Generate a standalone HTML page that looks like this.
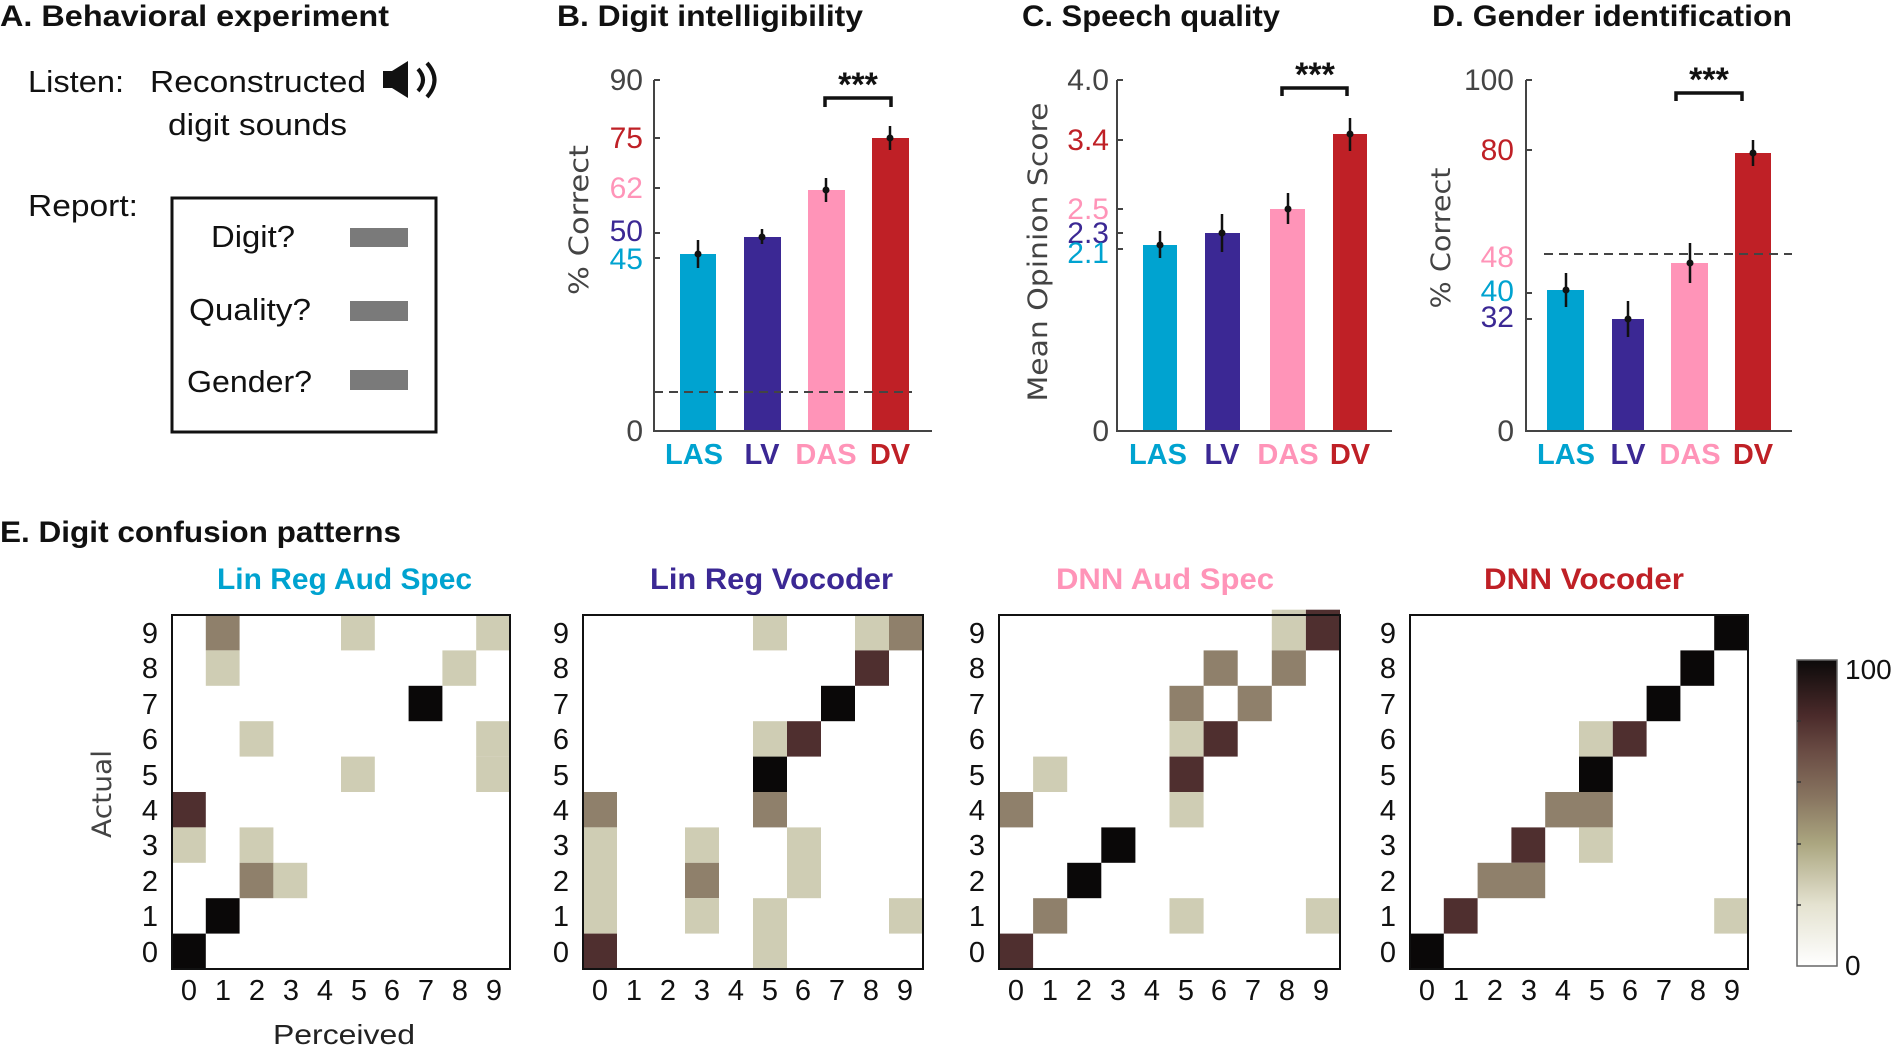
<!DOCTYPE html>
<html><head><meta charset="utf-8"><style>
html,body{margin:0;padding:0;background:#fff;}
svg{display:block;}
text{font-family:"Liberation Sans Narrow","Liberation Sans",sans-serif;}
.t{font-weight:bold;font-size:30px;fill:#111;}
.tk{font-size:30px;fill:#444;}
.cat{font-weight:bold;font-size:29px;}
.ax{stroke:#444;stroke-width:2;fill:none;}
.rot{font-family:"DejaVu Sans",sans-serif;font-size:27px;fill:#444;}
.mt{font-size:29px;fill:#111;}
</style></head><body>
<svg width="1899" height="1046" viewBox="0 0 1899 1046" xmlns="http://www.w3.org/2000/svg">
<defs>
<linearGradient id="cb" x1="0" y1="1" x2="0" y2="0">
<stop offset="0" stop-color="#ffffff"/>
<stop offset="0.2" stop-color="#e4e2d0"/>
<stop offset="0.4" stop-color="#aba680"/>
<stop offset="0.55" stop-color="#887560"/>
<stop offset="0.7" stop-color="#6a4c44"/>
<stop offset="0.82" stop-color="#4a2a2a"/>
<stop offset="1" stop-color="#0c0a0a"/>
</linearGradient>
</defs>

<!-- Titles -->
<text class="t" x="0" y="26" textLength="389" lengthAdjust="spacingAndGlyphs">A. Behavioral experiment</text>
<text class="t" x="557" y="26" textLength="306" lengthAdjust="spacingAndGlyphs">B. Digit intelligibility</text>
<text class="t" x="1022" y="26" textLength="258" lengthAdjust="spacingAndGlyphs">C. Speech quality</text>
<text class="t" x="1432" y="26" textLength="360" lengthAdjust="spacingAndGlyphs">D. Gender identification</text>

<!-- Panel A -->
<g font-size="31" fill="#111">
<text x="28" y="92" textLength="96" lengthAdjust="spacingAndGlyphs">Listen:</text>
<text x="150" y="92" textLength="216" lengthAdjust="spacingAndGlyphs">Reconstructed</text>
<text x="168" y="135" textLength="179" lengthAdjust="spacingAndGlyphs">digit sounds</text>
<text x="28" y="216" textLength="110" lengthAdjust="spacingAndGlyphs">Report:</text>
<text x="211" y="247" textLength="84" lengthAdjust="spacingAndGlyphs">Digit?</text>
<text x="189" y="320" textLength="122" lengthAdjust="spacingAndGlyphs">Quality?</text>
<text x="187" y="392" textLength="125" lengthAdjust="spacingAndGlyphs">Gender?</text>
</g>
<polygon points="383,71 392,71 408,61 408,98 392,88 383,88" fill="#111"/>
<path d="M418,69 Q428,80 418,91" stroke="#111" stroke-width="4" fill="none"/>
<path d="M427,63 Q442,80 427,97" stroke="#111" stroke-width="4" fill="none"/>
<rect x="172" y="198" width="264" height="234" fill="none" stroke="#111" stroke-width="3"/>
<rect x="350" y="228" width="58" height="19" fill="#7a7a7a"/>
<rect x="350" y="301" width="58" height="20" fill="#7a7a7a"/>
<rect x="350" y="370" width="58" height="20" fill="#7a7a7a"/>

<!-- Panel B -->
<rect x="680" y="254" width="36" height="177" fill="#00a3d0"/>
<rect x="744" y="237" width="37" height="194" fill="#3b2894"/>
<rect x="808" y="190" width="37" height="241" fill="#ff94b8"/>
<rect x="872" y="138" width="37" height="293" fill="#bf2026"/>
<line x1="654" y1="392" x2="912" y2="392" stroke="#444" stroke-width="2" stroke-dasharray="9,6"/>
<path class="ax" d="M654,80 L654,431 L932,431"/>
<g stroke="#444" stroke-width="2"><line x1="654" y1="80" x2="660" y2="80"/><line x1="654" y1="138" x2="660" y2="138"/><line x1="654" y1="188" x2="660" y2="188"/><line x1="654" y1="233" x2="660" y2="233"/><line x1="654" y1="258" x2="660" y2="258"/></g>
<g stroke="#111" stroke-width="2.5"><line x1="698" y1="240" x2="698" y2="268"/><line x1="762" y1="229" x2="762" y2="244"/><line x1="826" y1="178" x2="826" y2="202"/><line x1="890" y1="126" x2="890" y2="150"/></g>
<g fill="#111"><circle cx="698" cy="254" r="3.5"/><circle cx="762" cy="237" r="3.5"/><circle cx="826" cy="190" r="3.5"/><circle cx="890" cy="138" r="3.5"/></g>
<path d="M825,107 L825,98 L891,98 L891,107" stroke="#111" stroke-width="3.5" fill="none"/>
<text x="858" y="96" text-anchor="middle" font-size="34" font-weight="bold" fill="#111" font-family="Liberation Sans">***</text>
<g class="tk" text-anchor="end">
<text x="643" y="90">90</text><text x="643" y="148" fill="#bf2026">75</text><text x="643" y="198" fill="#ff94b8">62</text><text x="643" y="241" fill="#3b2894">50</text><text x="643" y="269" fill="#00a3d0">45</text><text x="643" y="441">0</text>
</g>
<text class="rot" transform="translate(588,220) rotate(-90)" text-anchor="middle" textLength="150" lengthAdjust="spacingAndGlyphs">% Correct</text>
<g class="cat" text-anchor="middle"><text x="694" y="464" fill="#00a3d0">LAS</text><text x="762" y="464" fill="#3b2894">LV</text><text x="826" y="464" fill="#ff94b8">DAS</text><text x="890" y="464" fill="#bf2026">DV</text></g>

<!-- Panel C -->
<rect x="1143" y="245" width="34" height="186" fill="#00a3d0"/>
<rect x="1205" y="233" width="35" height="198" fill="#3b2894"/>
<rect x="1270" y="209" width="35" height="222" fill="#ff94b8"/>
<rect x="1333" y="134" width="34" height="297" fill="#bf2026"/>
<path class="ax" d="M1117,80 L1117,431 L1392,431"/>
<g stroke="#444" stroke-width="2"><line x1="1117" y1="80" x2="1123" y2="80"/><line x1="1117" y1="140" x2="1123" y2="140"/><line x1="1117" y1="209" x2="1123" y2="209"/><line x1="1117" y1="233" x2="1123" y2="233"/><line x1="1117" y1="249" x2="1123" y2="249"/></g>
<g stroke="#111" stroke-width="2.5"><line x1="1160" y1="231" x2="1160" y2="258"/><line x1="1222" y1="214" x2="1222" y2="252"/><line x1="1288" y1="193" x2="1288" y2="224"/><line x1="1350" y1="118" x2="1350" y2="151"/></g>
<g fill="#111"><circle cx="1160" cy="245" r="3.5"/><circle cx="1222" cy="233" r="3.5"/><circle cx="1288" cy="209" r="3.5"/><circle cx="1350" cy="134" r="3.5"/></g>
<path d="M1282,96 L1282,88 L1347,88 L1347,96" stroke="#111" stroke-width="3.5" fill="none"/>
<text x="1315" y="86" text-anchor="middle" font-size="34" font-weight="bold" fill="#111" font-family="Liberation Sans">***</text>
<g class="tk" text-anchor="end">
<text x="1109" y="90">4.0</text><text x="1109" y="150" fill="#bf2026">3.4</text><text x="1109" y="219" fill="#ff94b8">2.5</text><text x="1109" y="243" fill="#3b2894">2.3</text><text x="1109" y="263" fill="#00a3d0">2.1</text><text x="1109" y="441">0</text>
</g>
<text class="rot" transform="translate(1047,252) rotate(-90)" text-anchor="middle" textLength="299" lengthAdjust="spacingAndGlyphs">Mean Opinion Score</text>
<g class="cat" text-anchor="middle"><text x="1158" y="464" fill="#00a3d0">LAS</text><text x="1222" y="464" fill="#3b2894">LV</text><text x="1288" y="464" fill="#ff94b8">DAS</text><text x="1350" y="464" fill="#bf2026">DV</text></g>

<!-- Panel D -->
<rect x="1547" y="290" width="37" height="141" fill="#00a3d0"/>
<rect x="1612" y="319" width="32" height="112" fill="#3b2894"/>
<rect x="1671" y="263" width="37" height="168" fill="#ff94b8"/>
<rect x="1735" y="153" width="36" height="278" fill="#bf2026"/>
<line x1="1544" y1="254" x2="1792" y2="254" stroke="#444" stroke-width="2" stroke-dasharray="9,6"/>
<path class="ax" d="M1526,80 L1526,431 L1792,431"/>
<g stroke="#444" stroke-width="2"><line x1="1526" y1="80" x2="1532" y2="80"/><line x1="1526" y1="150" x2="1532" y2="150"/><line x1="1526" y1="293" x2="1532" y2="293"/><line x1="1526" y1="319" x2="1532" y2="319"/></g>
<g stroke="#111" stroke-width="2.5"><line x1="1566" y1="273" x2="1566" y2="307"/><line x1="1628" y1="301" x2="1628" y2="337"/><line x1="1690" y1="243" x2="1690" y2="283"/><line x1="1753" y1="140" x2="1753" y2="166"/></g>
<g fill="#111"><circle cx="1566" cy="290" r="3.5"/><circle cx="1628" cy="319" r="3.5"/><circle cx="1690" cy="263" r="3.5"/><circle cx="1753" cy="153" r="3.5"/></g>
<path d="M1676,101 L1676,93 L1742,93 L1742,101" stroke="#111" stroke-width="3.5" fill="none"/>
<text x="1709" y="91" text-anchor="middle" font-size="34" font-weight="bold" fill="#111" font-family="Liberation Sans">***</text>
<g class="tk" text-anchor="end">
<text x="1514" y="90">100</text><text x="1514" y="160" fill="#bf2026">80</text><text x="1514" y="267" fill="#ff94b8">48</text><text x="1514" y="301" fill="#00a3d0">40</text><text x="1514" y="327" fill="#3b2894">32</text><text x="1514" y="441">0</text>
</g>
<text class="rot" transform="translate(1450,238) rotate(-90)" text-anchor="middle" textLength="141" lengthAdjust="spacingAndGlyphs">% Correct</text>
<g class="cat" text-anchor="middle"><text x="1566" y="464" fill="#00a3d0">LAS</text><text x="1628" y="464" fill="#3b2894">LV</text><text x="1690" y="464" fill="#ff94b8">DAS</text><text x="1753" y="464" fill="#bf2026">DV</text></g>

<!-- Panel E -->
<text class="t" x="0" y="542" textLength="401" lengthAdjust="spacingAndGlyphs">E. Digit confusion patterns</text>
<g class="t" font-size="30">
<text x="217" y="589" fill="#00a3d0" textLength="255" lengthAdjust="spacingAndGlyphs">Lin Reg Aud Spec</text>
<text x="650" y="589" fill="#3b2894" textLength="243" lengthAdjust="spacingAndGlyphs">Lin Reg Vocoder</text>
<text x="1056" y="589" fill="#ff94b8" textLength="218" lengthAdjust="spacingAndGlyphs">DNN Aud Spec</text>
<text x="1484" y="589" fill="#bf2026" textLength="200" lengthAdjust="spacingAndGlyphs">DNN Vocoder</text>
</g>

<!-- M1 -->
<g transform="translate(172,615) scale(33.8,35.4)">
<rect x="1" y="0" width="1" height="1" fill="#8f806b"/><rect x="5" y="0" width="1" height="1" fill="#cfcdb4"/><rect x="9" y="0" width="1" height="1" fill="#cfcdb4"/>
<rect x="1" y="1" width="1" height="1" fill="#cfcdb4"/><rect x="8" y="1" width="1" height="1" fill="#cfcdb4"/>
<rect x="7" y="2" width="1" height="1" fill="#0a0808"/>
<rect x="2" y="3" width="1" height="1" fill="#cfcdb4"/><rect x="9" y="3" width="1" height="1" fill="#cfcdb4"/>
<rect x="5" y="4" width="1" height="1" fill="#cfcdb4"/><rect x="9" y="4" width="1" height="1" fill="#cfcdb4"/>
<rect x="0" y="5" width="1" height="1" fill="#4f2f2f"/>
<rect x="0" y="6" width="1" height="1" fill="#cfcdb4"/><rect x="2" y="6" width="1" height="1" fill="#cfcdb4"/>
<rect x="2" y="7" width="1" height="1" fill="#8f806b"/><rect x="3" y="7" width="1" height="1" fill="#cfcdb4"/>
<rect x="1" y="8" width="1" height="1" fill="#0a0808"/>
<rect x="0" y="9" width="1" height="1" fill="#0a0808"/>
</g>
<rect x="172" y="615" width="338" height="354" fill="none" stroke="#111" stroke-width="2"/>
<!-- M2 -->
<g transform="translate(583,615) scale(34,35.4)">
<rect x="5" y="0" width="1" height="1" fill="#cfcdb4"/><rect x="8" y="0" width="1" height="1" fill="#cfcdb4"/><rect x="9" y="0" width="1" height="1" fill="#8f806b"/>
<rect x="8" y="1" width="1" height="1" fill="#4f2f2f"/>
<rect x="7" y="2" width="1" height="1" fill="#0a0808"/>
<rect x="5" y="3" width="1" height="1" fill="#cfcdb4"/><rect x="6" y="3" width="1" height="1" fill="#4f2f2f"/>
<rect x="5" y="4" width="1" height="1" fill="#0a0808"/>
<rect x="0" y="5" width="1" height="1" fill="#8f806b"/><rect x="5" y="5" width="1" height="1" fill="#8f806b"/>
<rect x="0" y="6" width="1" height="3" fill="#cfcdb4"/><rect x="3" y="6" width="1" height="1" fill="#cfcdb4"/><rect x="6" y="6" width="1" height="2" fill="#cfcdb4"/>
<rect x="3" y="7" width="1" height="1" fill="#8f806b"/>
<rect x="3" y="8" width="1" height="1" fill="#cfcdb4"/><rect x="5" y="8" width="1" height="2" fill="#cfcdb4"/><rect x="9" y="8" width="1" height="1" fill="#cfcdb4"/>
<rect x="0" y="9" width="1" height="1" fill="#4f2f2f"/>
</g>
<rect x="583" y="615" width="340" height="354" fill="none" stroke="#111" stroke-width="2"/>
<!-- M3 -->
<g transform="translate(999,615) scale(34.1,35.4)">
<rect x="8" y="-0.15" width="1" height="1.15" fill="#cfcdb4"/><rect x="9" y="-0.15" width="1" height="1.15" fill="#4f2f2f"/>
<rect x="6" y="1" width="1" height="1" fill="#8f806b"/><rect x="8" y="1" width="1" height="1" fill="#8f806b"/>
<rect x="5" y="2" width="1" height="1" fill="#8f806b"/><rect x="7" y="2" width="1" height="1" fill="#8f806b"/>
<rect x="5" y="3" width="1" height="1" fill="#cfcdb4"/><rect x="6" y="3" width="1" height="1" fill="#4f2f2f"/>
<rect x="1" y="4" width="1" height="1" fill="#cfcdb4"/><rect x="5" y="4" width="1" height="1" fill="#4f2f2f"/>
<rect x="0" y="5" width="1" height="1" fill="#8f806b"/><rect x="5" y="5" width="1" height="1" fill="#cfcdb4"/>
<rect x="3" y="6" width="1" height="1" fill="#0a0808"/>
<rect x="2" y="7" width="1" height="1" fill="#0a0808"/>
<rect x="1" y="8" width="1" height="1" fill="#8f806b"/><rect x="5" y="8" width="1" height="1" fill="#cfcdb4"/><rect x="9" y="8" width="1" height="1" fill="#cfcdb4"/>
<rect x="0" y="9" width="1" height="1" fill="#4f2f2f"/>
</g>
<rect x="999" y="615" width="341" height="354" fill="none" stroke="#111" stroke-width="2"/>
<!-- M4 -->
<g transform="translate(1410,615) scale(33.8,35.4)">
<rect x="9" y="0" width="1" height="1" fill="#0a0808"/>
<rect x="8" y="1" width="1" height="1" fill="#0a0808"/>
<rect x="7" y="2" width="1" height="1" fill="#0a0808"/>
<rect x="5" y="3" width="1" height="1" fill="#cfcdb4"/><rect x="6" y="3" width="1" height="1" fill="#4f2f2f"/>
<rect x="5" y="4" width="1" height="1" fill="#0a0808"/>
<rect x="4" y="5" width="2" height="1" fill="#8f806b"/>
<rect x="3" y="6" width="1" height="1" fill="#4f2f2f"/><rect x="5" y="6" width="1" height="1" fill="#cfcdb4"/>
<rect x="2" y="7" width="2" height="1" fill="#8f806b"/>
<rect x="1" y="8" width="1" height="1" fill="#4f2f2f"/><rect x="9" y="8" width="1" height="1" fill="#cfcdb4"/>
<rect x="0" y="9" width="1" height="1" fill="#0a0808"/>
</g>
<rect x="1410" y="615" width="338" height="354" fill="none" stroke="#111" stroke-width="2"/>

<!-- tick labels for matrices -->
<g class="mt" text-anchor="end">
<g><text x="158" y="643">9</text><text x="158" y="678">8</text><text x="158" y="714">7</text><text x="158" y="749">6</text><text x="158" y="785">5</text><text x="158" y="820">4</text><text x="158" y="855">3</text><text x="158" y="891">2</text><text x="158" y="926">1</text><text x="158" y="962">0</text></g>
<g transform="translate(411,0)"><text x="158" y="643">9</text><text x="158" y="678">8</text><text x="158" y="714">7</text><text x="158" y="749">6</text><text x="158" y="785">5</text><text x="158" y="820">4</text><text x="158" y="855">3</text><text x="158" y="891">2</text><text x="158" y="926">1</text><text x="158" y="962">0</text></g>
<g transform="translate(827,0)"><text x="158" y="643">9</text><text x="158" y="678">8</text><text x="158" y="714">7</text><text x="158" y="749">6</text><text x="158" y="785">5</text><text x="158" y="820">4</text><text x="158" y="855">3</text><text x="158" y="891">2</text><text x="158" y="926">1</text><text x="158" y="962">0</text></g>
<g transform="translate(1238,0)"><text x="158" y="643">9</text><text x="158" y="678">8</text><text x="158" y="714">7</text><text x="158" y="749">6</text><text x="158" y="785">5</text><text x="158" y="820">4</text><text x="158" y="855">3</text><text x="158" y="891">2</text><text x="158" y="926">1</text><text x="158" y="962">0</text></g>
</g>
<g class="mt" text-anchor="middle">
<g transform="translate(172,0)"><text x="17" y="1000">0</text><text x="51" y="1000">1</text><text x="85" y="1000">2</text><text x="119" y="1000">3</text><text x="153" y="1000">4</text><text x="187" y="1000">5</text><text x="220" y="1000">6</text><text x="254" y="1000">7</text><text x="288" y="1000">8</text><text x="322" y="1000">9</text></g>
<g transform="translate(583,0)"><text x="17" y="1000">0</text><text x="51" y="1000">1</text><text x="85" y="1000">2</text><text x="119" y="1000">3</text><text x="153" y="1000">4</text><text x="187" y="1000">5</text><text x="220" y="1000">6</text><text x="254" y="1000">7</text><text x="288" y="1000">8</text><text x="322" y="1000">9</text></g>
<g transform="translate(999,0)"><text x="17" y="1000">0</text><text x="51" y="1000">1</text><text x="85" y="1000">2</text><text x="119" y="1000">3</text><text x="153" y="1000">4</text><text x="187" y="1000">5</text><text x="220" y="1000">6</text><text x="254" y="1000">7</text><text x="288" y="1000">8</text><text x="322" y="1000">9</text></g>
<g transform="translate(1410,0)"><text x="17" y="1000">0</text><text x="51" y="1000">1</text><text x="85" y="1000">2</text><text x="119" y="1000">3</text><text x="153" y="1000">4</text><text x="187" y="1000">5</text><text x="220" y="1000">6</text><text x="254" y="1000">7</text><text x="288" y="1000">8</text><text x="322" y="1000">9</text></g>
</g>
<text x="344" y="1044" text-anchor="middle" font-size="28" fill="#222" textLength="142" lengthAdjust="spacingAndGlyphs">Perceived</text>
<text class="rot" transform="translate(111,794) rotate(-90)" text-anchor="middle" fill="#111" textLength="88" lengthAdjust="spacingAndGlyphs">Actual</text>

<!-- colorbar -->
<rect x="1797" y="660" width="40" height="306" fill="url(#cb)" stroke="#666" stroke-width="1.5"/>
<g stroke="#333" stroke-width="1.5"><line x1="1797" y1="721" x2="1801" y2="721"/><line x1="1797" y1="782" x2="1801" y2="782"/><line x1="1797" y1="844" x2="1801" y2="844"/><line x1="1797" y1="905" x2="1801" y2="905"/></g>
<text x="1845" y="679" font-size="28" fill="#111">100</text>
<text x="1845" y="975" font-size="28" fill="#111">0</text>
</svg>
</body></html>
